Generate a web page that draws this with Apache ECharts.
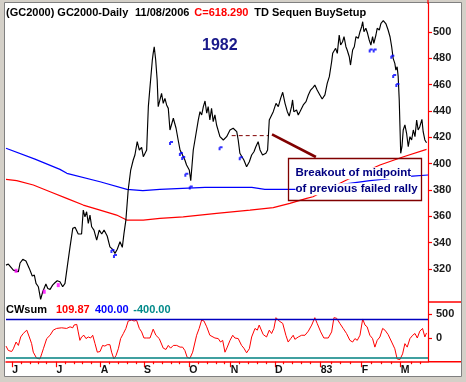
<!DOCTYPE html>
<html><head><meta charset="utf-8">
<script src="https://cdn.jsdelivr.net/npm/echarts@6/dist/echarts.min.js"></script>
<style>html,body{margin:0;padding:0;background:#d4d0c8}#c{width:466px;height:382px}</style>
</head><body><div id="c"></div>
<script>
// x axis = trading-day index from the first bar
const monthTicks = [3.0, 24.1, 45.1, 65.7, 87.3, 107.0, 128.1, 149.9, 169.4, 188.0];
const monthLabels = ['J', 'J', 'A', 'S', 'O', 'N', 'D', '83', 'F', 'M'];
const weekTicks = [7.5, 11.4, 15.4, 19.4, 28.1, 32.4, 36.5, 40.8, 49.2, 53.5, 57.8, 61.9, 70.2, 74.2, 78.5, 82.5, 91.6, 95.9, 100.0, 103.8, 111.1, 115.4, 119.7, 123.8, 132.1, 136.5, 140.8, 145.1, 154.7, 159.4, 164.2, 174.2, 178.9, 183.7, 192.8, 197.5];
const priceTicks = [320, 340, 360, 380, 400, 420, 440, 460, 480, 500];
const cwTicks = [0, 500];

const price = [[0,323.0],[1.1,323.8],[3.5,319.2],[5.9,318.0],[6.7,324.6],[8.0,327.4],[9.5,326.1],[11.1,320.5],[12.5,314.7],[13.5,315.4],[14.3,309.1],[15.4,306.6],[16.5,297.0],[17.5,302.8],[19.0,308.6],[19.9,305.3],[21.0,304.6],[22.2,307.8],[23.3,309.6],[24.4,311.1],[25.7,310.4],[27.0,306.6],[28.1,309.1],[29.4,324.3],[30.5,336.9],[31.8,350.9],[32.9,351.7],[34.4,346.6],[36.0,346.6],[36.8,364.8],[37.6,359.7],[38.4,363.5],[39.2,354.7],[40.0,361.0],[40.8,352.1],[41.9,349.6],[43.2,342.0],[44.4,349.6],[45.6,346.6],[46.7,349.6],[48.2,345.1],[49.5,336.9],[50.8,335.0],[51.9,331.9],[53.0,335.0],[54.3,340.7],[55.4,336.5],[56.2,347.1],[57.1,357.2],[58.2,380.0],[59.4,395.2],[60.6,402.8],[61.4,406.6],[62.5,416.7],[63.5,410.4],[64.6,412.4],[65.4,405.3],[67.0,410.4],[67.8,443.3],[68.6,458.5],[69.7,478.7],[70.1,483.8],[70.6,488.8],[71.3,478.7],[72.0,463.5],[72.5,443.3],[73.3,442.0],[74.1,453.4],[74.9,445.8],[75.7,449.6],[76.5,444.6],[77.3,442.0],[78.1,425.6],[78.9,426.9],[79.7,434.5],[81.0,426.9],[82.0,418.0],[82.9,410.4],[83.7,407.9],[84.4,406.6],[85.2,402.8],[86.0,399.0],[87.3,395.2],[88.0,387.1],[89.2,410.4],[90.0,418.0],[91.6,433.2],[92.4,439.5],[93.2,437.0],[94.0,443.3],[94.8,447.6],[95.6,438.3],[96.3,443.3],[97.1,433.2],[97.9,442.0],[98.7,431.9],[99.5,437.0],[100.3,429.4],[101.1,430.7],[101.9,420.5],[103.5,418.0],[105.1,420.5],[106.7,425.6],[108.2,426.9],[109.9,424.3],[110.6,418.0],[111.4,407.9],[112.2,406.6],[113.3,402.8],[114.6,397.7],[115.9,401.5],[117.0,406.6],[118.1,409.1],[119.0,412.9],[120.1,416.7],[121.0,410.4],[122.2,406.6],[123.8,407.9],[124.6,410.4],[125.4,433.2],[127.3,439.5],[128.6,445.8],[129.7,443.3],[130.8,449.6],[131.8,454.2],[132.9,445.8],[134.0,439.5],[134.9,436.2],[136.0,443.3],[136.5,448.4],[137.1,439.5],[138.4,440.8],[139.2,437.0],[140.0,439.5],[141.6,444.6],[142.9,447.1],[144.0,452.2],[145.1,455.9],[146.3,458.0],[147.1,459.7],[148.2,455.9],[149.5,452.2],[150.6,449.1],[151.9,452.2],[153.0,461.0],[154.0,466.1],[155.1,477.4],[155.6,483.8],[156.2,482.5],[157.0,487.6],[157.8,483.8],[158.7,497.7],[159.4,490.1],[160.3,492.6],[161.0,496.4],[161.9,488.8],[162.5,486.3],[163.5,481.2],[164.1,474.9],[165.1,486.3],[165.9,488.8],[166.7,496.4],[167.8,495.2],[168.6,500.2],[169.4,504.0],[169.9,507.8],[170.5,500.2],[171.4,502.8],[172.2,499.0],[173.0,493.9],[173.8,490.1],[174.6,496.4],[175.2,491.4],[176.2,497.7],[176.8,502.8],[177.8,501.5],[178.6,506.6],[179.7,508.6],[181.0,506.1],[182.0,501.5],[182.9,496.4],[183.7,488.8],[184.4,480.0],[185.2,476.2],[185.7,471.1],[186.3,473.6],[186.8,466.1],[187.3,448.4],[188.0,407.9],[188.6,412.9],[189.2,425.6],[190.0,429.4],[190.8,423.1],[191.6,412.9],[192.4,420.5],[193.2,418.0],[194.0,425.6],[194.8,420.5],[195.6,433.2],[196.3,425.6],[197.1,428.1],[198.1,433.7],[198.7,424.3],[199.5,418.0],[200.3,415.9]];

const blueAvg = [[0,411.7],[13.8,403.5],[25.7,395.7],[29.0,392.7],[44.8,386.3],[57.6,380.5],[65.2,379.5],[73.3,380.5],[94.8,382.0],[117.1,382.0],[123.3,380.5],[138.6,380.5],[154.0,383.0],[173.3,387.1],[193.7,390.6],[201,391.4]];
const redAvg = [[0,388.1],[5.1,387.1],[13.0,383.8],[21.0,378.7],[28.9,373.7],[36.8,368.6],[44.8,364.8],[52.7,361.0],[57.5,357.2],[65.4,357.2],[73.3,358.5],[84.4,359.7],[100.3,362.3],[116.2,364.8],[127.3,366.6],[135.2,369.9],[143.2,373.7],[146.2,374.9],[162.2,387.6],[178.1,399.0],[189.0,405.1],[200.3,410.9]];

const setupBlue = [[78.6,415.7],[83.3,407.3],[84.4,404.3],[102.2,411.7],[111.8,404.1],[85.9,391.6],[88.0,382.0],[50.7,333.7],[51.9,329.9],[173.7,486.0],[175.6,486.0],[184.0,481.2],[184.9,466.6],[186.4,459.7]];
const setupMagenta = [[4.8,318.7],[18.2,302.8],[24.9,307.8]];

const midLine = [[107.5,421.3],[124.9,421.3]];
const arrowLine = [[126.7,422.2],[147.6,405.1]];

const cwsum = [[0,-160],[1.1,-250],[2.7,-271],[3.5,-215],[4.8,-77],[5.9,-146],[7.0,27],[8.2,98],[9.9,167],[11.1,27],[12.2,-110],[13.0,-285],[14.6,-410],[16.2,-423],[17.0,-319],[17.8,-215],[19.4,-6],[21.0,62],[22.5,167],[24.1,202],[26.5,215],[28.9,202],[30.5,235],[31.8,215],[32.4,271],[33.7,285],[34.4,131],[35.2,-42],[36.0,27],[37.1,62],[38.1,-6],[39.2,27],[40.3,6],[41.3,62],[42.4,-110],[43.5,-285],[44.8,-271],[46.0,-146],[47.1,-160],[48.2,-131],[49.5,-131],[50.3,-285],[51.4,-423],[52.4,-354],[53.5,-215],[54.6,-6],[55.9,98],[57.1,202],[58.2,354],[59.9,375],[61.0,354],[62.2,369],[63.5,202],[64.6,131],[65.7,6],[67.0,6],[68.6,6],[70.1,187],[71.4,62],[73.0,-6],[74.9,-202],[76.2,-229],[77.3,-146],[78.4,-202],[79.7,-146],[81.3,-146],[82.9,-181],[84.1,-181],[85.2,-250],[86.3,-390],[87.6,-410],[88.9,-285],[90.8,62],[92.0,202],[93.2,375],[94.3,354],[95.6,235],[97.1,62],[97.9,77],[99.5,6],[101.1,-6],[102.2,-77],[103.2,-42],[104.3,-285],[105.4,-181],[106.7,-42],[108.0,62],[109.0,6],[110.6,-6],[112.2,-146],[113.3,-202],[114.6,-298],[115.9,-215],[117.0,27],[118.6,202],[119.7,167],[120.6,271],[121.3,306],[122.5,77],[124.1,27],[125.4,167],[126.5,98],[127.6,202],[128.6,423],[130.1,354],[131.8,306],[133.3,62],[134.4,-77],[135.6,-6],[136.8,62],[137.6,-21],[139.2,27],[140.8,62],[142.4,62],[144.0,146],[145.6,271],[147.1,423],[148.2,306],[149.9,131],[151.4,6],[153.5,6],[155.1,131],[156.2,423],[157.5,410],[159.0,306],[160.6,202],[162.2,98],[163.8,-42],[165.1,-77],[166.2,-6],[167.3,-42],[168.6,62],[169.9,396],[171.0,271],[172.0,235],[173.3,62],[174.6,-6],[175.7,-181],[176.8,-42],[178.1,27],[179.4,202],[180.5,167],[182.0,77],[183.7,-77],[185.2,-215],[186.3,-423],[187.6,-437],[188.9,-319],[190.0,-110],[191.1,-181],[192.4,-6],[193.7,62],[194.8,98],[195.9,6],[197.1,146],[198.4,202],[199.5,27],[200.3,110]];
const cwLevels = [400, -400];

const FONT = '"Liberation Sans", Arial, sans-serif';
const chart = echarts.init(document.getElementById('c'), null, {renderer: 'canvas'});

function txt(x, y, text, color, font, extra) {
  return Object.assign({type: 'text', x: x, y: y, z: 50, silent: true,
    style: Object.assign({text: text, fill: color, font: font, align: 'left', verticalAlign: 'middle',
      textAlign: 'left', textVerticalAlign: 'middle'}, extra || {})});
}
function seg(x1, y1, x2, y2, color, w) {
  return {type: 'line', z: 40, silent: true, shape: {x1: x1, y1: y1, x2: x2, y2: y2}, style: {stroke: color, lineWidth: w}};
}

const option = {
  animation: false,
  backgroundColor: '#d4d0c8',
  grid: [
    {left: 6, right: 38, top: 3, height: 299},
    {left: 6, right: 38, top: 302, height: 59.7}
  ],
  xAxis: [
    {gridIndex: 0, type: 'value', min: 0, max: 201, show: false},
    {gridIndex: 1, type: 'value', min: 0, max: 201, position: 'bottom',
      axisLine: {show: true, onZero: false, lineStyle: {color: '#ff0000', width: 1.5}},
      splitLine: {show: false},
      axisTick: {show: true, customValues: monthTicks, length: 5.5, lineStyle: {color: '#ff0000', width: 1.2}},
      axisLabel: {show: true, customValues: monthTicks, align: 'left', margin: 3,
        formatter: function (v) { const i = monthTicks.indexOf(v); return i >= 0 ? monthLabels[i] : ''; },
        fontSize: 10.5, fontWeight: 'bold', color: '#111', fontFamily: FONT}},
    {gridIndex: 1, type: 'value', min: 0, max: 201, position: 'bottom',
      axisLine: {show: false, onZero: false}, splitLine: {show: false}, axisLabel: {show: false},
      axisTick: {show: true, customValues: weekTicks, length: 2.5, lineStyle: {color: '#ff0000', width: 1.2}}}
  ],
  yAxis: [
    {gridIndex: 0, type: 'value', position: 'right', min: 295, max: 522, splitLine: {show: false},
      axisLine: {show: true, onZero: false, lineStyle: {color: '#ff0000', width: 1.2}},
      axisTick: {show: true, customValues: priceTicks, length: 4, lineStyle: {color: '#ff0000', width: 1.2}},
      axisLabel: {show: true, customValues: priceTicks, margin: 5, fontSize: 11, fontWeight: 'bold', color: '#1a1a1a', fontFamily: FONT}},
    {gridIndex: 1, type: 'value', position: 'right', min: -480, max: 744, splitLine: {show: false},
      axisLine: {show: true, onZero: false, lineStyle: {color: '#ff0000', width: 1.2}},
      axisTick: {show: true, customValues: cwTicks, length: 4, lineStyle: {color: '#ff0000', width: 1.2}},
      axisLabel: {show: true, customValues: cwTicks, margin: 8, fontSize: 11, fontWeight: 'bold', color: '#1a1a1a', fontFamily: FONT}}
  ],
  series: [
    {type: 'line', name: 'blueAvg', xAxisIndex: 0, yAxisIndex: 0, data: blueAvg, showSymbol: false, z: 2,
      lineStyle: {color: '#0000ff', width: 1.2}},
    {type: 'line', name: 'redAvg', xAxisIndex: 0, yAxisIndex: 0, data: redAvg, showSymbol: false, z: 2,
      lineStyle: {color: '#ff0000', width: 1.2}},
    {type: 'line', name: 'mid', xAxisIndex: 0, yAxisIndex: 0, data: midLine, showSymbol: false, z: 3,
      lineStyle: {color: '#800000', width: 1, type: [4, 3]}},
    {type: 'line', name: 'price', xAxisIndex: 0, yAxisIndex: 0, data: price, showSymbol: false, z: 4,
      lineStyle: {color: '#000000', width: 1.15}},
    {type: 'line', name: 'arrow', xAxisIndex: 0, yAxisIndex: 0, data: arrowLine, showSymbol: false, z: 5,
      lineStyle: {color: '#800000', width: 2.6}},
    {type: 'scatter', name: 'setupBlue', xAxisIndex: 0, yAxisIndex: 0, data: setupBlue, z: 6,
      symbol: 'path://M1,0H4V2H2V4H0V1H1Z', symbolSize: 4, itemStyle: {color: '#0000ff'}},
    {type: 'scatter', name: 'setupMagenta', xAxisIndex: 0, yAxisIndex: 0, data: setupMagenta, z: 6,
      symbol: 'rect', symbolSize: [3, 4], itemStyle: {color: '#ff00ff'}},
    {type: 'line', name: 'cwsum', xAxisIndex: 1, yAxisIndex: 1, data: cwsum, showSymbol: false, z: 4,
      lineStyle: {color: '#ff0000', width: 1},
      markLine: {silent: true, symbol: 'none', label: {show: false},
        data: [
          {yAxis: cwLevels[0], lineStyle: {color: '#0000c0', width: 1.3, type: 'solid'}},
          {yAxis: cwLevels[1], lineStyle: {color: '#008080', width: 1.6, type: 'solid'}}
        ]}}
  ],
  graphic: [
    {type: 'rect', z: -10, silent: true, shape: {x: 4.5, y: 2.5, width: 457, height: 374},
      style: {fill: '#ffffff', stroke: '#808080', lineWidth: 1}},
    seg(428, 0, 428, 4, '#ff0000', 1.2),
    seg(428, 302, 461, 302, '#ff0000', 1.5),
    seg(428, 361.7, 461, 361.7, '#ff0000', 1.5),
    txt(6, 13, '(GC2000) GC2000-Daily', '#000', 'bold 11px ' + FONT),
    txt(135, 13, '11/08/2006', '#000', 'bold 11px ' + FONT),
    txt(194.3, 13, 'C=618.290', '#ff0000', 'bold 11px ' + FONT),
    txt(254.3, 13, 'TD Sequen BuySetup', '#000', 'bold 11px ' + FONT),
    txt(202, 46, '1982', '#1a1a8a', 'bold 16px ' + FONT),
    {type: 'rect', z: 45, silent: true, shape: {x: 288.5, y: 158.5, width: 133, height: 42},
      style: {fill: 'none', stroke: '#800000', lineWidth: 1.3}},
    txt(295.5, 173.3, 'Breakout of midpoint', '#000080', 'bold 11.5px ' + FONT, {backgroundColor: '#ffffff'}),
    txt(295.5, 189.3, 'of previous failed rally', '#000080', 'bold 11.5px ' + FONT, {backgroundColor: '#ffffff'}),
    txt(6, 310, 'CWsum', '#000', 'bold 11px ' + FONT),
    txt(56, 310, '109.87', '#ff0000', 'bold 11px ' + FONT),
    txt(95, 310, '400.00', '#0000ff', 'bold 11px ' + FONT),
    txt(133.3, 310, '-400.00', '#008a8a', 'bold 11px ' + FONT)
  ]
};
chart.setOption(option);
</script></body></html>
